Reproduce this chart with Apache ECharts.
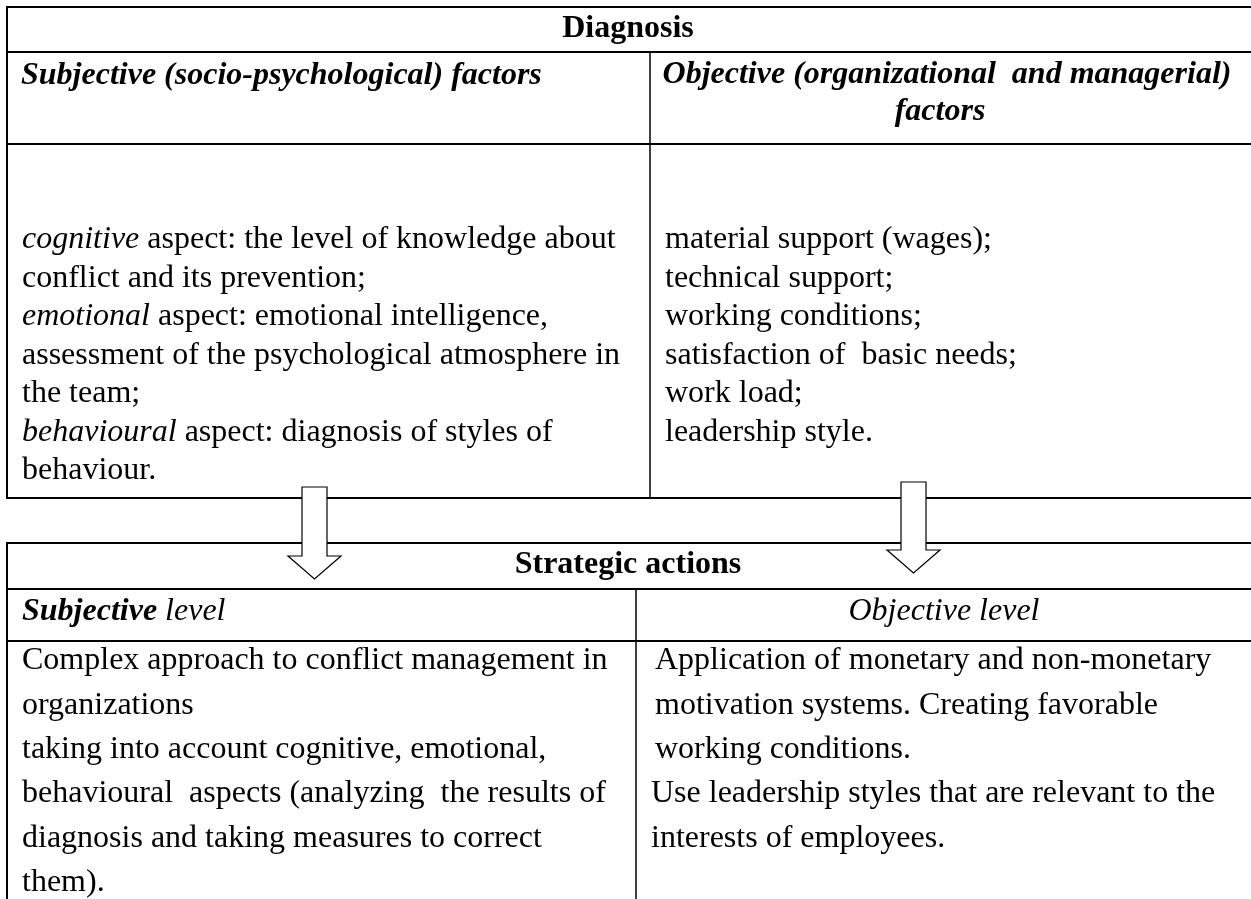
<!DOCTYPE html>
<html>
<head>
<meta charset="utf-8">
<script src="https://cdn.jsdelivr.net/npm/echarts@6/dist/echarts.min.js"></script>
<style>
html,body{margin:0;padding:0;background:#fff;}
#chart{width:1251px;height:899px;}
</style>
</head>
<body>
<div id="chart"></div>
<script>
// ---------- content ----------
const diagnosisTitle = 'Diagnosis';
const diagHeadLeft = 'Subjective (socio-psychological) factors';
const diagHeadRight = ['Objective (organizational  and managerial)', 'factors'];
// [italic lead word, normal remainder]
const diagLeftLines = [
  ['cognitive', ' aspect: the level of knowledge about'],
  ['', 'conflict and its prevention;'],
  ['emotional', ' aspect: emotional intelligence,'],
  ['', 'assessment of the psychological atmosphere in'],
  ['', 'the team;'],
  ['behavioural', ' aspect: diagnosis of styles of'],
  ['', 'behaviour.']
];
const diagRightLines = [
  'material support (wages);',
  'technical support;',
  'working conditions;',
  'satisfaction of  basic needs;',
  'work load;',
  'leadership style.'
];
const strategicTitle = 'Strategic actions';
const levelLeft = ['Subjective', ' level'];
const levelRight = 'Objective level';
const stratLeftLines = [
  'Complex approach to conflict management in',
  'organizations',
  'taking into account cognitive, emotional,',
  'behavioural  aspects (analyzing  the results of',
  'diagnosis and taking measures to correct',
  'them).'
];
const stratRightLines = [
  'Application of monetary and non-monetary',
  'motivation systems. Creating favorable',
  'working conditions.',
  'Use leadership styles that are relevant to the',
  'interests of employees.'
];

// ---------- layout ----------
const FONT = '"Liberation Serif","Times New Roman",serif';
const FS = 32;
const L = 7, R = 1252;
const t1 = {top: 7, h1: 52, h2: 144, bottom: 498, div: 650};
const t2 = {top: 543, h1: 589, h2: 641, bottom: 905, div: 636};
const topBody = {y0: 240, step: 38.5, xl: 22, xr: 665};
const botBody = {y0: 661, step: 44.3, xl: 22, xr: 655, xr2: 651};

const els = [];
function hline(x1, x2, y, w) {
  els.push({type: 'line', shape: {x1: x1, y1: y, x2: x2, y2: y}, style: {stroke: '#000', lineWidth: w || 2}, z: 1});
}
function vline(x, y1, y2, w) {
  els.push({type: 'line', shape: {x1: x, y1: y1, x2: x, y2: y2}, style: {stroke: '#000', lineWidth: w || 2}, z: 1});
}
function text(x, y, str, opt) {
  opt = opt || {};
  els.push({
    type: 'text', x: x, y: y, z: 5,
    style: {
      text: str, fill: '#000', fontFamily: FONT, fontSize: FS,
      fontWeight: opt.bold ? 'bold' : 'normal',
      fontStyle: opt.italic ? 'italic' : 'normal',
      align: opt.align || 'left', verticalAlign: 'middle',
      rich: {
        i: {fontFamily: FONT, fontSize: FS, fontStyle: 'italic', fontWeight: 'normal', fill: '#000'},
        bi: {fontFamily: FONT, fontSize: FS, fontStyle: 'italic', fontWeight: 'bold', fill: '#000'}
      }
    }
  });
}

// top table
hline(L - 1, R + 1, t1.top);
hline(L, R, t1.h1);
hline(L, R, t1.h2);
hline(L - 1, R + 1, t1.bottom);
vline(L, t1.top, t1.bottom);
vline(R, t1.top, t1.bottom);
vline(t1.div, t1.h1, t1.bottom, 1.5);

text(628, 29, diagnosisTitle, {bold: true, align: 'center'});
text(21, 76, diagHeadLeft, {bold: true, italic: true});
text(947, 75, diagHeadRight[0], {bold: true, italic: true, align: 'center'});
text(940, 112, diagHeadRight[1], {bold: true, italic: true, align: 'center'});

diagLeftLines.forEach(function (p, i) {
  const s = (p[0] ? '{i|' + p[0] + '}' : '') + p[1];
  text(topBody.xl, topBody.y0 + i * topBody.step, s);
});
diagRightLines.forEach(function (s, i) {
  text(topBody.xr, topBody.y0 + i * topBody.step, s);
});

// bottom table
hline(L - 1, R + 1, t2.top);
hline(L, R, t2.h1);
hline(L, R, t2.h2);
vline(L, t2.top, t2.bottom);
vline(R, t2.top, t2.bottom);
vline(t2.div, t2.h1, t2.bottom, 1.5);

text(628, 565, strategicTitle, {bold: true, align: 'center'});
text(22, 612, '{bi|' + levelLeft[0] + '}' + levelLeft[1], {italic: true});
text(944, 612, levelRight, {italic: true, align: 'center'});

stratLeftLines.forEach(function (s, i) {
  text(botBody.xl, botBody.y0 + i * botBody.step, s);
});
stratRightLines.forEach(function (s, i) {
  text(i < 3 ? botBody.xr : botBody.xr2, botBody.y0 + i * botBody.step, s);
});

// block arrows
function arrow(x1, x2, top, hx1, hx2, headTop, tip) {
  const cx = (hx1 + hx2) / 2;
  els.push({
    type: 'polygon', z: 3,
    shape: {points: [[x1, top], [x2, top], [x2, headTop], [hx2, headTop], [cx, tip], [hx1, headTop], [x1, headTop]]},
    style: {fill: '#fff', stroke: '#000', lineWidth: 1.2}
  });
}
arrow(302, 327, 487, 288, 341, 556, 579);
arrow(901, 926, 482, 887, 940, 550, 573);

const chart = echarts.init(document.getElementById('chart'), null, {renderer: 'canvas'});
chart.setOption({
  backgroundColor: '#fff',
  animation: false,
  graphic: {elements: els}
});
</script>
</body>
</html>
